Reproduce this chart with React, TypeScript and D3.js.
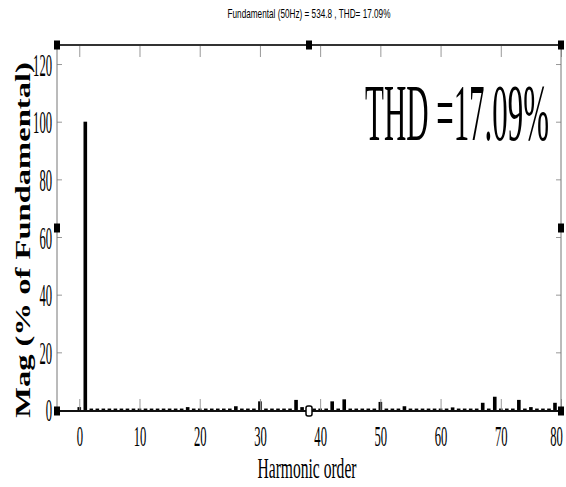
import React, { useEffect, useRef } from "react";
import * as d3 from "d3";

const titleText = "Fundamental (50Hz) = 534.8 , THD= 17.09%";
const thdText = "THD =17.09%";
const xLabel = "Harmonic order";
const yLabel = "Mag (% of Fundamental)";
const xTicks = [0, 10, 20, 30, 40, 50, 60, 70, 80];
const yTicks = [0, 20, 40, 60, 80, 100, 120];

// magnitude of harmonic order 0..80, % of fundamental
const magnitude = [
  1.0, 100, 0.5, 0.5, 0.5, 0.5, 0.5, 0.5, 0.5, 0.5,
  0.5, 0.5, 0.5, 0.5, 0.5, 0.5, 0.5, 0.5, 1.0, 0.5,
  0.5, 0.5, 0.5, 0.5, 0.5, 0.5, 1.3, 0.5, 0.5, 0.5,
  3.0, 0.5, 0.5, 0.5, 0.5, 0.5, 3.5, 1.0, 0.5, 0.5,
  0.5, 0.5, 3.0, 0.5, 3.7, 0.5, 0.5, 0.5, 0.5, 0.5,
  2.8, 0.5, 0.5, 0.5, 1.3, 0.5, 0.5, 0.5, 0.5, 0.5,
  0.5, 0.5, 0.9, 0.5, 0.5, 0.5, 0.5, 2.5, 0.5, 4.6,
  0.5, 0.5, 0.5, 3.5, 0.5, 1.0, 0.5, 0.5, 0.5, 2.5,
  0.5,
];

const W = 566;
const H = 487;
const box = { left: 57, right: 561, top: 45, bottom: 411 };
const serif = "'Liberation Serif', 'DejaVu Serif', serif";

// squeeze a text horizontally (in its own frame) to a given width
function squeeze(el: SVGTextElement, width: number, x: number, y: number, rot = 0) {
  const w = el.getComputedTextLength();
  const s = w > 0 ? width / w : 1;
  el.setAttribute("x", "0");
  el.setAttribute("y", "0");
  el.setAttribute("transform", `translate(${x},${y}) rotate(${rot}) scale(${s},1)`);
}

export default function App() {
  const svgRef = useRef<SVGSVGElement>(null);

  useEffect(() => {
    const svg = d3.select(svgRef.current);
    svg.selectAll("*").remove();

    const x = d3.scaleLinear().domain([-3.7, 80]).range([box.left, box.right]);
    const y = d3.scaleLinear().domain([-0.35, 126.6]).range([box.bottom, box.top]);

    // bars
    const bw = (x(1) - x(0)) * 0.6;
    svg.append("g")
      .selectAll("rect")
      .data(magnitude)
      .join("rect")
      .attr("x", (d, i) => x(i) - bw / 2)
      .attr("y", d => y(d))
      .attr("width", bw)
      .attr("height", d => y(0) - y(d))
      .attr("fill", "#000");

    // top axis (ticks only)
    const top = svg.append("g").attr("transform", `translate(0,${box.top})`)
      .call(d3.axisBottom(x).tickValues(xTicks).tickSizeInner(12).tickSizeOuter(0).tickFormat(() => ""));
    // bottom axis
    const bottom = svg.append("g").attr("transform", `translate(0,${box.bottom})`)
      .call(d3.axisBottom(x).tickValues(xTicks).tickSizeInner(-12).tickSizeOuter(0));
    bottom.selectAll<SVGTextElement, number>("text")
      .attr("dy", null)
      .attr("font-family", serif)
      .attr("font-size", 30)
      .attr("fill", "#000")
      .each(function (d) {
        const shift = d === 80 ? -5 : 0;
        squeeze(this, String(d).length * 6.3, shift, 35);
      });
    // left axis
    const left = svg.append("g").attr("transform", `translate(${box.left},0)`)
      .call(d3.axisLeft(y).tickValues(yTicks).tickSizeInner(-5).tickSizeOuter(0));
    left.selectAll<SVGTextElement, number>("text")
      .attr("dy", null)
      .attr("font-family", serif)
      .attr("font-size", 32)
      .attr("fill", "#000")
      .each(function (d) {
        squeeze(this, String(d).length * 6.3, -5, 11);
      });
    // right axis
    const right = svg.append("g").attr("transform", `translate(${box.right},0)`)
      .call(d3.axisRight(y).tickValues(yTicks).tickSizeInner(-5).tickSizeOuter(0).tickFormat(() => ""));

    [top, bottom, left, right].forEach(g => {
      g.select(".domain").remove();
      g.selectAll(".tick line").attr("stroke", "#999").attr("stroke-width", 1);
    });

    // frame
    const frame = svg.append("g");
    frame.append("line").attr("x1", box.left).attr("x2", box.right).attr("y1", box.top).attr("y2", box.top)
      .attr("stroke", "#333").attr("stroke-width", 2);
    frame.append("line").attr("x1", box.left).attr("x2", box.right).attr("y1", box.bottom).attr("y2", box.bottom)
      .attr("stroke", "#111").attr("stroke-width", 2);
    frame.append("line").attr("x1", box.left).attr("x2", box.left).attr("y1", box.top).attr("y2", box.bottom)
      .attr("stroke", "#777").attr("stroke-width", 1);
    frame.append("line").attr("x1", box.right).attr("x2", box.right).attr("y1", box.top).attr("y2", box.bottom)
      .attr("stroke", "#777").attr("stroke-width", 1);

    // selection handles
    const midX = (box.left + box.right) / 2;
    const midY = (box.top + box.bottom) / 2;
    const handles = [
      [box.left, box.top], [midX, box.top], [box.right, box.top],
      [box.left, midY], [box.right, midY],
      [box.left, box.bottom], [box.right, box.bottom],
    ];
    frame.selectAll("rect.h").data(handles).join("rect")
      .attr("class", "h")
      .attr("x", d => d[0] - 3).attr("y", d => d[1] - 4.5)
      .attr("width", 6).attr("height", 9)
      .attr("fill", "#000");
    frame.append("rect")
      .attr("x", midX - 3).attr("y", box.bottom - 5).attr("width", 6).attr("height", 10)
      .attr("rx", 2).attr("fill", "#fff").attr("stroke", "#000").attr("stroke-width", 1.5);

    // texts
    const title = svg.append("text")
      .attr("text-anchor", "middle")
      .attr("font-family", "'Liberation Sans', Arial, sans-serif")
      .attr("font-size", 13)
      .text(titleText);
    squeeze(title.node()!, 163, midX, 18);

    const thd = svg.append("text")
      .attr("font-family", serif)
      .attr("font-size", 80)
      .text(thdText);
    squeeze(thd.node()!, 184, 365, 140);

    const xl = svg.append("text")
      .attr("text-anchor", "middle")
      .attr("font-family", serif)
      .attr("font-size", 29)
      .text(xLabel);
    squeeze(xl.node()!, 99, 307, 478);

    const yl = svg.append("text")
      .attr("text-anchor", "middle")
      .attr("font-family", serif)
      .attr("font-weight", "bold")
      .attr("font-size", 22)
      .text(yLabel);
    squeeze(yl.node()!, 356, 30, 240, -90);
  }, []);

  return (
    <svg
      ref={svgRef}
      width={W}
      height={H}
      style={{ position: "absolute", left: 0, top: 0, background: "#fff" }}
    />
  );
}
